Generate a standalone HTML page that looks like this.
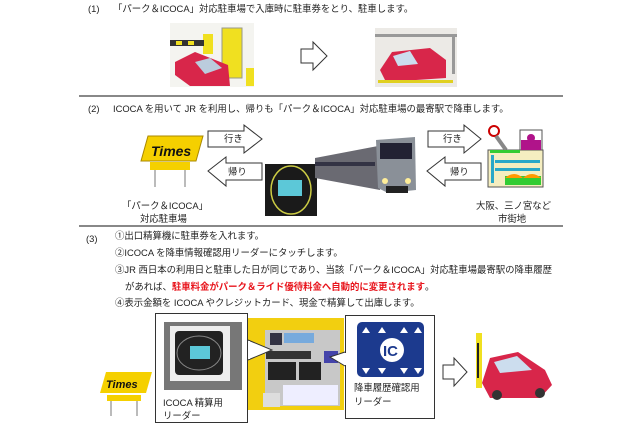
<!DOCTYPE html>
<html><head><meta charset="utf-8"><style>
body{margin:0;background:#fff;}
#c{position:relative;width:640px;height:437px;overflow:hidden;font-family:"Liberation Sans","Noto Sans CJK JP",sans-serif;color:#222;font-size:9.4px;}
.t{position:absolute;white-space:nowrap;line-height:12px;}
.r{color:#e8141c;font-weight:bold;}
</style></head><body><div id="c">
<svg width="640" height="437" style="position:absolute;left:0;top:0">
<rect x="79" y="95" width="484" height="2" fill="#888"/>
<rect x="79" y="225" width="484" height="2" fill="#888"/>
<rect x="170" y="23" width="84" height="64" fill="#f4f4f0"/>
<rect x="222" y="28" width="20" height="50" fill="#f0e020" stroke="#998" stroke-width="1"/>
<rect x="203" y="34" width="10" height="20" fill="#f0e020"/>
<rect x="170" y="40" width="34" height="6" fill="#333"/>
<rect x="176" y="41" width="6" height="4" fill="#f0e020"/><rect x="188" y="41" width="6" height="4" fill="#f0e020"/>
<path d="M175 62 L195 52 L228 65 L230 86 L190 86 L175 75Z" fill="#d8264a"/>
<path d="M195 62 L210 58 L222 68 L205 74Z" fill="#bcd"/>
<rect x="246" y="68" width="8" height="18" fill="#f0e020"/>
<path d="M301 49 L313 49 L313 42 L327 56 L313 70 L313 63 L301 63Z" fill="#fff" stroke="#333" stroke-width="1"/>
<rect x="375" y="28" width="82" height="59" fill="#eceae6"/>
<rect x="375" y="34" width="82" height="3" fill="#999"/><rect x="452" y="34" width="3" height="40" fill="#999"/>
<path d="M380 70 L392 52 L430 48 L446 60 L446 78 L386 82Z" fill="#d8264a"/>
<path d="M393 56 L410 51 L418 64 L398 66Z" fill="#cde"/>
<rect x="378" y="80" width="75" height="3" fill="#e0d020"/>
<path d="M148 136 L203 136 L196 161 L141 161Z" fill="#f5d000" stroke="#a80" stroke-width="1"/>
<text x="151" y="156" font-size="14" font-weight="bold" font-style="italic" fill="#111" font-family="Liberation Sans">Times</text>
<rect x="150" y="162" width="40" height="8" fill="#f5d000"/>
<rect x="154" y="170" width="2" height="17" fill="#bbb"/><rect x="184" y="170" width="2" height="17" fill="#bbb"/>
<path d="M208 131 L244 131 L244 125 L262 139 L244 153 L244 147 L208 147Z" fill="#fff" stroke="#333" stroke-width="1"/>
<path d="M262 163 L226 163 L226 157 L208 171 L226 186 L226 180 L262 180Z" fill="#fff" stroke="#333" stroke-width="1"/>
<path d="M428 131 L464 131 L464 125 L481 139 L464 153 L464 147 L428 147Z" fill="#fff" stroke="#333" stroke-width="1"/>
<path d="M481 163 L445 163 L445 157 L427 171 L445 186 L445 180 L481 180Z" fill="#fff" stroke="#333" stroke-width="1"/>
<rect x="265" y="164" width="52" height="52" fill="#1a1a1a"/>
<ellipse cx="291" cy="190" rx="20" ry="24" fill="none" stroke="#cc4" stroke-width="1.5"/>
<rect x="278" y="180" width="24" height="16" fill="#5cc8d8"/>
<path d="M315 158 L378 146 L380 190 L315 178Z" fill="#6a6a72"/>
<path d="M376 140 L415 137 L416 190 L388 193 L378 188Z" fill="#8a9098"/>
<rect x="380" y="143" width="32" height="16" fill="#223"/>
<circle cx="385" cy="181" r="3" fill="#fe9"/><circle cx="408" cy="181" r="3" fill="#fe9"/>
<rect x="315" y="162" width="60" height="4" fill="#334"/>
<rect x="386" y="186" width="22" height="7" fill="#222"/>
<rect x="488" y="150" width="55" height="37" fill="#f5eec0" stroke="#555" stroke-width="1"/>
<rect x="495" y="160" width="45" height="3" fill="#2aa8c8"/><rect x="495" y="168" width="45" height="3" fill="#2aa8c8"/>
<rect x="491" y="155" width="3" height="28" fill="#2aa8c8"/>
<rect x="505" y="176" width="36" height="9" fill="#3c3"/><path d="M505 178 Q514 170 523 178 Q532 170 541 178Z" fill="#f90"/>
<rect x="520" y="130" width="22" height="20" fill="#fff" stroke="#555"/><rect x="521" y="140" width="20" height="10" fill="#b0138a"/>
<circle cx="531" cy="138" r="4" fill="#b0138a"/>
<circle cx="494" cy="131" r="5" fill="#fff" stroke="#c00" stroke-width="2"/>
<path d="M496 136 L506 150" stroke="#888" stroke-width="4"/>
<rect x="490" y="150" width="30" height="3" fill="#3c3"/>
<rect x="246" y="318" width="98" height="92" fill="#f2cf10"/>
<rect x="265" y="330" width="75" height="76" fill="#c8c8c8"/>
<rect x="270" y="333" width="12" height="12" fill="#334"/><rect x="284" y="333" width="30" height="10" fill="#7ad"/>
<rect x="266" y="351" width="45" height="8" fill="#333"/>
<rect x="268" y="362" width="28" height="18" fill="#222"/><rect x="299" y="362" width="22" height="18" fill="#222"/>
<rect x="324" y="351" width="14" height="12" fill="#44a"/>
<rect x="283" y="385" width="55" height="20" fill="#eef"/>
<rect x="263" y="393" width="17" height="14" fill="#ddd"/>
<path d="M248 340 L272 350 L248 360" fill="#fff" stroke="#333"/>
<rect x="155.5" y="313.5" width="92" height="109" fill="#fff" stroke="#333"/>
<rect x="248" y="341" width="2" height="18" fill="#fff"/>
<rect x="164" y="322" width="78" height="68" fill="#777"/>
<rect x="170" y="326" width="60" height="55" fill="#eee"/>
<rect x="175" y="331" width="48" height="44" rx="4" fill="#222"/>
<ellipse cx="199" cy="353" rx="22" ry="17" fill="none" stroke="#888"/>
<rect x="190" y="346" width="20" height="13" fill="#5cc8d8"/>
<path d="M345 352 L330 357 L345 366" fill="#fff" stroke="#333"/>
<rect x="345.5" y="315.5" width="89" height="103" fill="#fff" stroke="#333"/>
<rect x="344" y="353" width="2" height="12" fill="#fff"/>
<rect x="357" y="322" width="67" height="55" rx="5" fill="#1c3a8e"/>
<circle cx="392" cy="350" r="12" fill="#fff"/>
<text x="383" y="356" font-size="15" font-weight="bold" fill="#1c3a8e" font-family="Liberation Sans">IC</text>
<g fill="#fff"><path d="M362 333 l4 -6 l4 6z"/><path d="M378 333 l4 -6 l4 6z"/><path d="M400 333 l4 -6 l4 6z"/><path d="M414 333 l4 -6 l4 6z"/>
<path d="M362 368 l4 6 l4 -6z"/><path d="M378 368 l4 6 l4 -6z"/><path d="M400 368 l4 6 l4 -6z"/><path d="M414 368 l4 6 l4 -6z"/></g>
<path d="M106 372 L152 372 L146 393 L100 393Z" fill="#f5d000"/>
<text x="106" y="388" font-size="11" font-weight="bold" font-style="italic" fill="#111" font-family="Liberation Sans">Times</text>
<rect x="107" y="395" width="34" height="6" fill="#f5d000"/>
<rect x="110" y="401" width="2" height="15" fill="#bbb"/><rect x="136" y="401" width="2" height="15" fill="#bbb"/>
<path d="M443 365 L454 365 L454 358 L467 372 L454 386 L454 379 L443 379Z" fill="#fff" stroke="#333"/>
<rect x="476" y="333" width="6" height="55" fill="#f0e020"/><rect x="477" y="343" width="2" height="35" fill="#222"/>
<path d="M482 383 L490 358 L518 352 L545 370 L552 385 L540 398 L490 398Z" fill="#d8264a"/>
<path d="M494 362 L517 356 L532 370 L500 373Z" fill="#cde"/>
<circle cx="497" cy="395" r="5" fill="#333"/><circle cx="540" cy="393" r="5" fill="#333"/>
</svg>
<div class="t" style="left:88px;top:3px">(1)</div>
<div class="t" style="left:113px;top:3px">「パーク＆ICOCA」対応駐車場で入庫時に駐車券をとり、駐車します。</div>
<div class="t" style="left:88px;top:103px">(2)</div>
<div class="t" style="left:113px;top:103px">ICOCA を用いて JR を利用し、帰りも「パーク＆ICOCA」対応駐車場の最寄駅で降車します。</div>
<div class="t" style="left:224px;top:133px">行き</div>
<div class="t" style="left:228px;top:166px">帰り</div>
<div class="t" style="left:443px;top:133px">行き</div>
<div class="t" style="left:450px;top:166px">帰り</div>
<div class="t" style="left:122px;top:200px">「パーク＆ICOCA」</div>
<div class="t" style="left:140px;top:213px">対応駐車場</div>
<div class="t" style="left:476px;top:200px">大阪、三ノ宮など</div>
<div class="t" style="left:498px;top:213px">市街地</div>
<div class="t" style="left:86px;top:233px">(3)</div>
<div class="t" style="left:115px;top:230px">①出口精算機に駐車券を入れます。</div>
<div class="t" style="left:115px;top:247px">②ICOCA を降車情報確認用リーダーにタッチします。</div>
<div class="t" style="left:115px;top:264px">③JR 西日本の利用日と駐車した日が同じであり、当該「パーク＆ICOCA」対応駐車場最寄駅の降車履歴</div>
<div class="t" style="left:125px;top:281px">があれば、<span class="r">駐車料金がパーク＆ライド優待料金へ自動的に変更されます</span>。</div>
<div class="t" style="left:115px;top:297px">④表示金額を ICOCA やクレジットカード、現金で精算して出庫します。</div>
<div class="t" style="left:163px;top:397px">ICOCA 精算用</div>
<div class="t" style="left:163px;top:410px">リーダー</div>
<div class="t" style="left:354px;top:382px">降車履歴確認用</div>
<div class="t" style="left:354px;top:396px">リーダー</div>
</div></body></html>
